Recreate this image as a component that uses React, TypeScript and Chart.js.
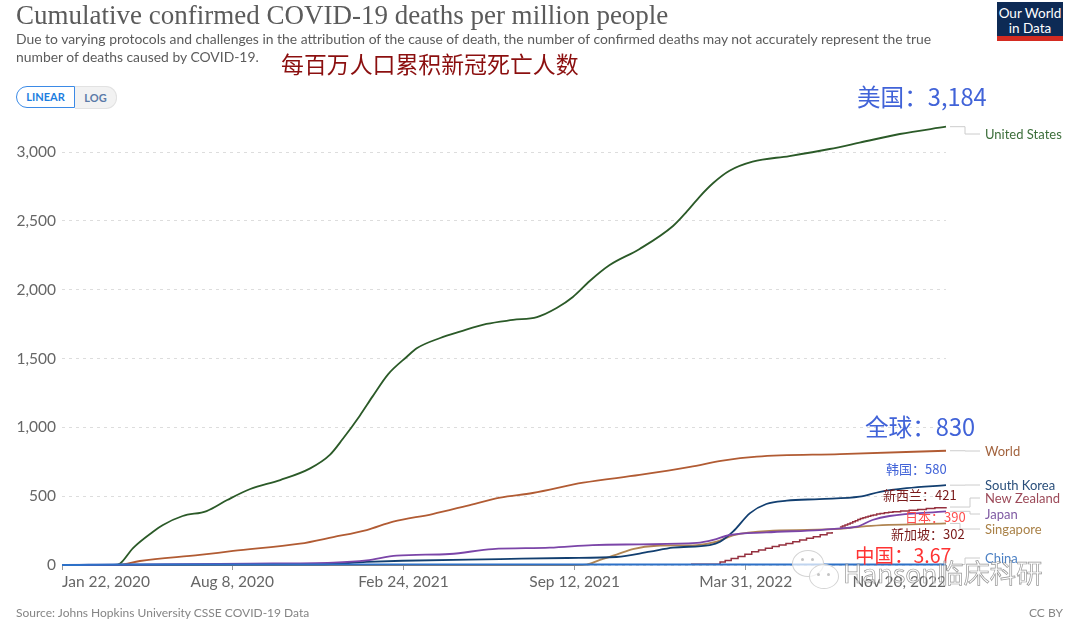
import React, { useEffect, useRef } from "react";
import Chart from "chart.js/auto";

// days since Jan 22, 2020 and deaths per million
const usDays = [0, 62, 68, 83, 106, 118, 141, 169, 193, 220, 255, 290, 313, 328, 348, 363, 381, 403, 415, 442, 465, 496, 527, 555, 578, 597, 617, 640, 675, 714, 730, 745, 761, 780, 807, 850, 897, 932, 979, 1033];
const usValues = [0, 0, 11, 123, 240, 291, 356, 392, 472, 552, 617, 702, 800, 915, 1085, 1225, 1385, 1513, 1576, 1649, 1695, 1751, 1780, 1801, 1867, 1947, 2065, 2179, 2296, 2463, 2567, 2675, 2775, 2864, 2930, 2971, 3022, 3068, 3131, 3184];

const worldDays = [0, 62, 68, 91, 161, 200, 278, 317, 356, 387, 433, 473, 512, 550, 609, 675, 734, 772, 812, 909, 1033];
const worldValues = [0, 0, 2, 29, 73, 102, 155, 203, 254, 315, 370, 430, 490, 523, 598, 654, 712, 758, 787, 806, 830];

const koreaDays = [0, 300, 356, 398, 512, 590, 648, 687, 714, 757, 769, 784, 804, 823, 847, 885, 932, 956, 987, 1033];
const koreaValues = [0, 5, 22, 31, 43, 51, 58, 97, 126, 145, 169, 242, 377, 443, 467, 479, 496, 532, 558, 580];

const japanDays = [0, 220, 317, 356, 391, 453, 503, 570, 620, 675, 742, 761, 780, 823, 885, 917, 929, 947, 967, 1033];
const japanValues = [0, 10, 17, 33, 68, 80, 116, 126, 145, 150, 160, 182, 218, 237, 254, 269, 278, 327, 356, 390];

const singaporeDays = [0, 590, 613, 628, 648, 667, 695, 742, 765, 784, 831, 909, 940, 1033];
const singaporeValues = [0, 0, 3, 36, 75, 116, 140, 145, 169, 215, 249, 262, 283, 302];

const zealandDays = [735, 769, 775, 782, 790, 798, 806, 814, 822, 830, 838, 846, 854, 862, 870, 878, 886, 894, 900, 903, 909, 912, 915, 918, 921, 924, 927, 930, 933, 936, 939, 942, 945, 948, 952, 956, 961, 966, 971, 980, 990, 1000, 1010, 1020, 1033];
const zealandValues = [5, 22, 32, 48, 62, 78, 96, 109, 122, 135, 146, 157, 168, 181, 194, 206, 220, 232, 240, NaN, 276, 283, 290, 298, 306, 315, 322, 330, 337, 343, 349, 354, 359, 364, 370, 375, 379, 383, 387, 392, 398, 403, 410, 415, 421];

const chinaDays = [0, 20, 40, 80, 120, 850, 1000, 1033];
const chinaValues = [0, 0.1, 2, 3, 3.2, 3.3, 3.4, 3.67];

const seriesNames = ["China", "Japan", "South Korea", "New Zealand", "Singapore", "World", "United States"];
const seriesColors = ["#2d71c8", "#7b45a8", "#123f70", "#95303f", "#b08552", "#b15b33", "#2b5a28"];
const labelColors = ["#4c80c4", "#7f5aa3", "#2a4f7b", "#9c4a59", "#a98147", "#a2633e", "#3c6e3a"];

const yTicks = [0, 500, 1000, 1500, 2000, 2500, 3000];
const xTickDays = [0, 199, 399, 599, 799, 1033];
const xTickLabels = ["Jan 22, 2020", "Aug 8, 2020", "Feb 24, 2021", "Sep 12, 2021", "Mar 31, 2022", "Nov 20, 2022"];

const zip = (xs: number[], ys: number[]) => xs.map((x, i) => ({ x, y: ys[i] }));
const seriesData = [
  zip(chinaDays, chinaValues),
  zip(japanDays, japanValues),
  zip(koreaDays, koreaValues),
  zip(zealandDays, zealandValues),
  zip(singaporeDays, singaporeValues),
  zip(worldDays, worldValues),
  zip(usDays, usValues),
];

// elbow connectors: x of the bend and y of the label for each series
const labelBendX = [965, 970, 965, 970, 960, 965, 965];
const labelY = [558, 514, 485, 498, 529, 451, 134];

const endLabels = {
  id: "endLabels",
  afterDatasetsDraw(chart: any) {
    const { ctx, scales } = chart;
    ctx.save();
    ctx.font = "13px Lato";
    ctx.textBaseline = "middle";
    seriesData.forEach((pts, i) => {
      const last = pts[pts.length - 1];
      const y0 = scales.y.getPixelForValue(last.y);
      const x0 = scales.x.getPixelForValue(last.x) + 4;
      ctx.strokeStyle = "#cccccc";
      ctx.lineWidth = 1;
      ctx.beginPath();
      ctx.moveTo(x0, y0);
      ctx.lineTo(labelBendX[i], y0);
      ctx.lineTo(labelBendX[i], labelY[i]);
      ctx.lineTo(980, labelY[i]);
      ctx.stroke();
      ctx.fillStyle = labelColors[i];
      ctx.fillText(seriesNames[i], 985, labelY[i] + 1);
    });
    ctx.restore();
  },
};

const cjk = '"Noto Sans CJK SC", sans-serif';
const notes = [
  { text: "美国：3,184", left: 857, top: 97, size: 23.6, color: "#4163d8" },
  { text: "全球：830", left: 865, top: 427, size: 23.6, color: "#4163d8" },
  { text: "韩国：580", left: 886, top: 469, size: 13, color: "#4163d8" },
  { text: "新西兰：421", left: 883, top: 495, size: 13, color: "#7a1a1a" },
  { text: "日本：390", left: 905, top: 517, size: 13, color: "#ff4d4d" },
  { text: "新加坡：302", left: 891, top: 534, size: 13, color: "#7a1a1a" },
  { text: "中国：3.67", left: 855, top: 555, size: 19.5, color: "#ff3333" },
  { text: "每百万人口累积新冠死亡人数", left: 281, top: 63, size: 22.9, color: "#8b0f0f" },
];

const abs = (left: number, top: number, extra: React.CSSProperties = {}): React.CSSProperties => ({
  position: "absolute",
  left,
  top,
  whiteSpace: "nowrap",
  ...extra,
});

const bubble: React.CSSProperties = {
  borderRadius: "50%",
  border: "1px solid #d4d4d4",
  background: "rgba(255,255,255,0.7)",
};
const eye: React.CSSProperties = { width: 3, height: 3, borderRadius: "50%", background: "#c4c4c4" };

const App: React.FC = () => {
  const canvasRef = useRef<HTMLCanvasElement>(null!);

  useEffect(() => {
    const chart = new Chart(canvasRef.current, {
      type: "line",
      data: {
        datasets: seriesData.map((data, i) => ({
          label: seriesNames[i],
          data,
          borderColor: seriesColors[i],
          borderWidth: i === 0 ? 2 : seriesNames[i] === "New Zealand" ? 1.5 : 1.8,
          pointRadius: 0,
          clip: false,
          stepped: seriesNames[i] === "New Zealand",
          cubicInterpolationMode: "monotone" as const,
          spanGaps: false,
        })),
      },
      options: {
        responsive: false,
        animation: false,
        layout: { padding: { left: 0, right: 134, top: 126.7, bottom: 0 } },
        plugins: { legend: { display: false }, tooltip: { enabled: false } },
        scales: {
          x: {
            type: "linear",
            min: 0,
            max: 1033,
            afterBuildTicks: (s: any) => {
              s.ticks = xTickDays.map((value) => ({ value }));
            },
            afterFit: (s: any) => {
              s.height = 55;
            },
            grid: { drawOnChartArea: false, tickLength: 5, color: "#999999" },
            border: { display: false },
            ticks: {
              autoSkip: false,
              maxRotation: 0,
              align: "inner",
              padding: 3,
              color: "#666666",
              font: { family: "Lato", size: 15.5 },
              callback: (v: any) => xTickLabels[xTickDays.indexOf(Number(v))],
            },
          },
          y: {
            min: 0,
            max: 3184,
            afterBuildTicks: (s: any) => {
              s.ticks = yTicks.map((value) => ({ value }));
            },
            afterFit: (s: any) => {
              s.width = 62;
            },
            grid: { color: "#dddddd", tickLength: 0 },
            border: { display: false, dash: [3, 4] },
            ticks: {
              padding: 6,
              color: "#666666",
              font: { family: "Lato", size: 15.5 },
              callback: (v: any) => Number(v).toLocaleString("en-US"),
            },
          },
        },
      },
      plugins: [endLabels],
    });
    return () => chart.destroy();
  }, []);

  return (
    <div style={{ position: "relative", width: 1080, height: 620, overflow: "hidden", background: "#fff" }}>
      <style>{"body{margin:0}"}</style>
      <canvas ref={canvasRef} width={1080} height={620} style={{ display: "block" }} />

      <div style={abs(16, 0, { font: "27px 'Liberation Serif', serif", color: "#5b5b5b", lineHeight: "30px" })}>
        Cumulative confirmed COVID-19 deaths per million people
      </div>
      <div style={abs(16, 30, { font: "13.9px Lato", color: "#5b5b5b", lineHeight: "18px" })}>
        Due to varying protocols and challenges in the attribution of the cause of death, the number of confirmed deaths may not accurately represent the true
        <br />
        number of deaths caused by COVID-19.
      </div>

      <div style={abs(75, 86, { width: 41, height: 21, background: "#f2f2f2", border: "1px solid #e2e2e2", borderLeft: "none", borderRadius: "0 11px 11px 0", font: "bold 11px Lato", color: "#5b7aa8", textAlign: "center", lineHeight: "21px" })}>
        LOG
      </div>
      <div style={abs(16, 86, { width: 57, height: 20, background: "#fff", border: "1px solid #3b8ae6", borderRadius: "11px 0 0 11px", font: "bold 11px Lato", color: "#1d7ee0", textAlign: "center", lineHeight: "20px" })}>
        LINEAR
      </div>

      <div style={abs(997, 2, { width: 66, height: 39, background: "#0d2a55", color: "#fff", font: "13.5px Lato", textAlign: "center", lineHeight: "15px", paddingTop: 4, boxSizing: "border-box" })}>
        Our World
        <br />
        in Data
        <div style={abs(0, 34, { width: 66, height: 5, background: "#d42b21" })} />
      </div>

      {notes.map((n) => (
        <div key={n.text} style={abs(n.left, n.top - n.size * 0.75, { font: `${n.size}px ${cjk}`, color: n.color, lineHeight: `${n.size * 1.5}px` })}>
          {n.text}
        </div>
      ))}

      <div style={abs(16, 606, { font: "12px Lato", color: "#858585", lineHeight: "14px" })}>
        Source: Johns Hopkins University CSSE COVID-19 Data
      </div>
      <div style={abs(1029, 606, { font: "12px Lato", color: "#858585", lineHeight: "14px" })}>CC BY</div>

      {/* watermark */}
      <div style={abs(792, 550, { width: 30, height: 25, ...bubble })} />
      <div style={abs(801, 558, eye)} />
      <div style={abs(811, 558, eye)} />
      <div style={abs(809, 564, { width: 28, height: 23, ...bubble })} />
      <div style={abs(817, 573, eye)} />
      <div style={abs(827, 573, eye)} />
      <div style={abs(843, 557, { font: `26.3px ${cjk}`, color: "rgba(255,255,255,0.55)", lineHeight: "30px", WebkitTextStroke: "0.7px rgba(115,115,115,0.75)" })}>
        Hanson临床科研
      </div>
    </div>
  );
};

export default App;
